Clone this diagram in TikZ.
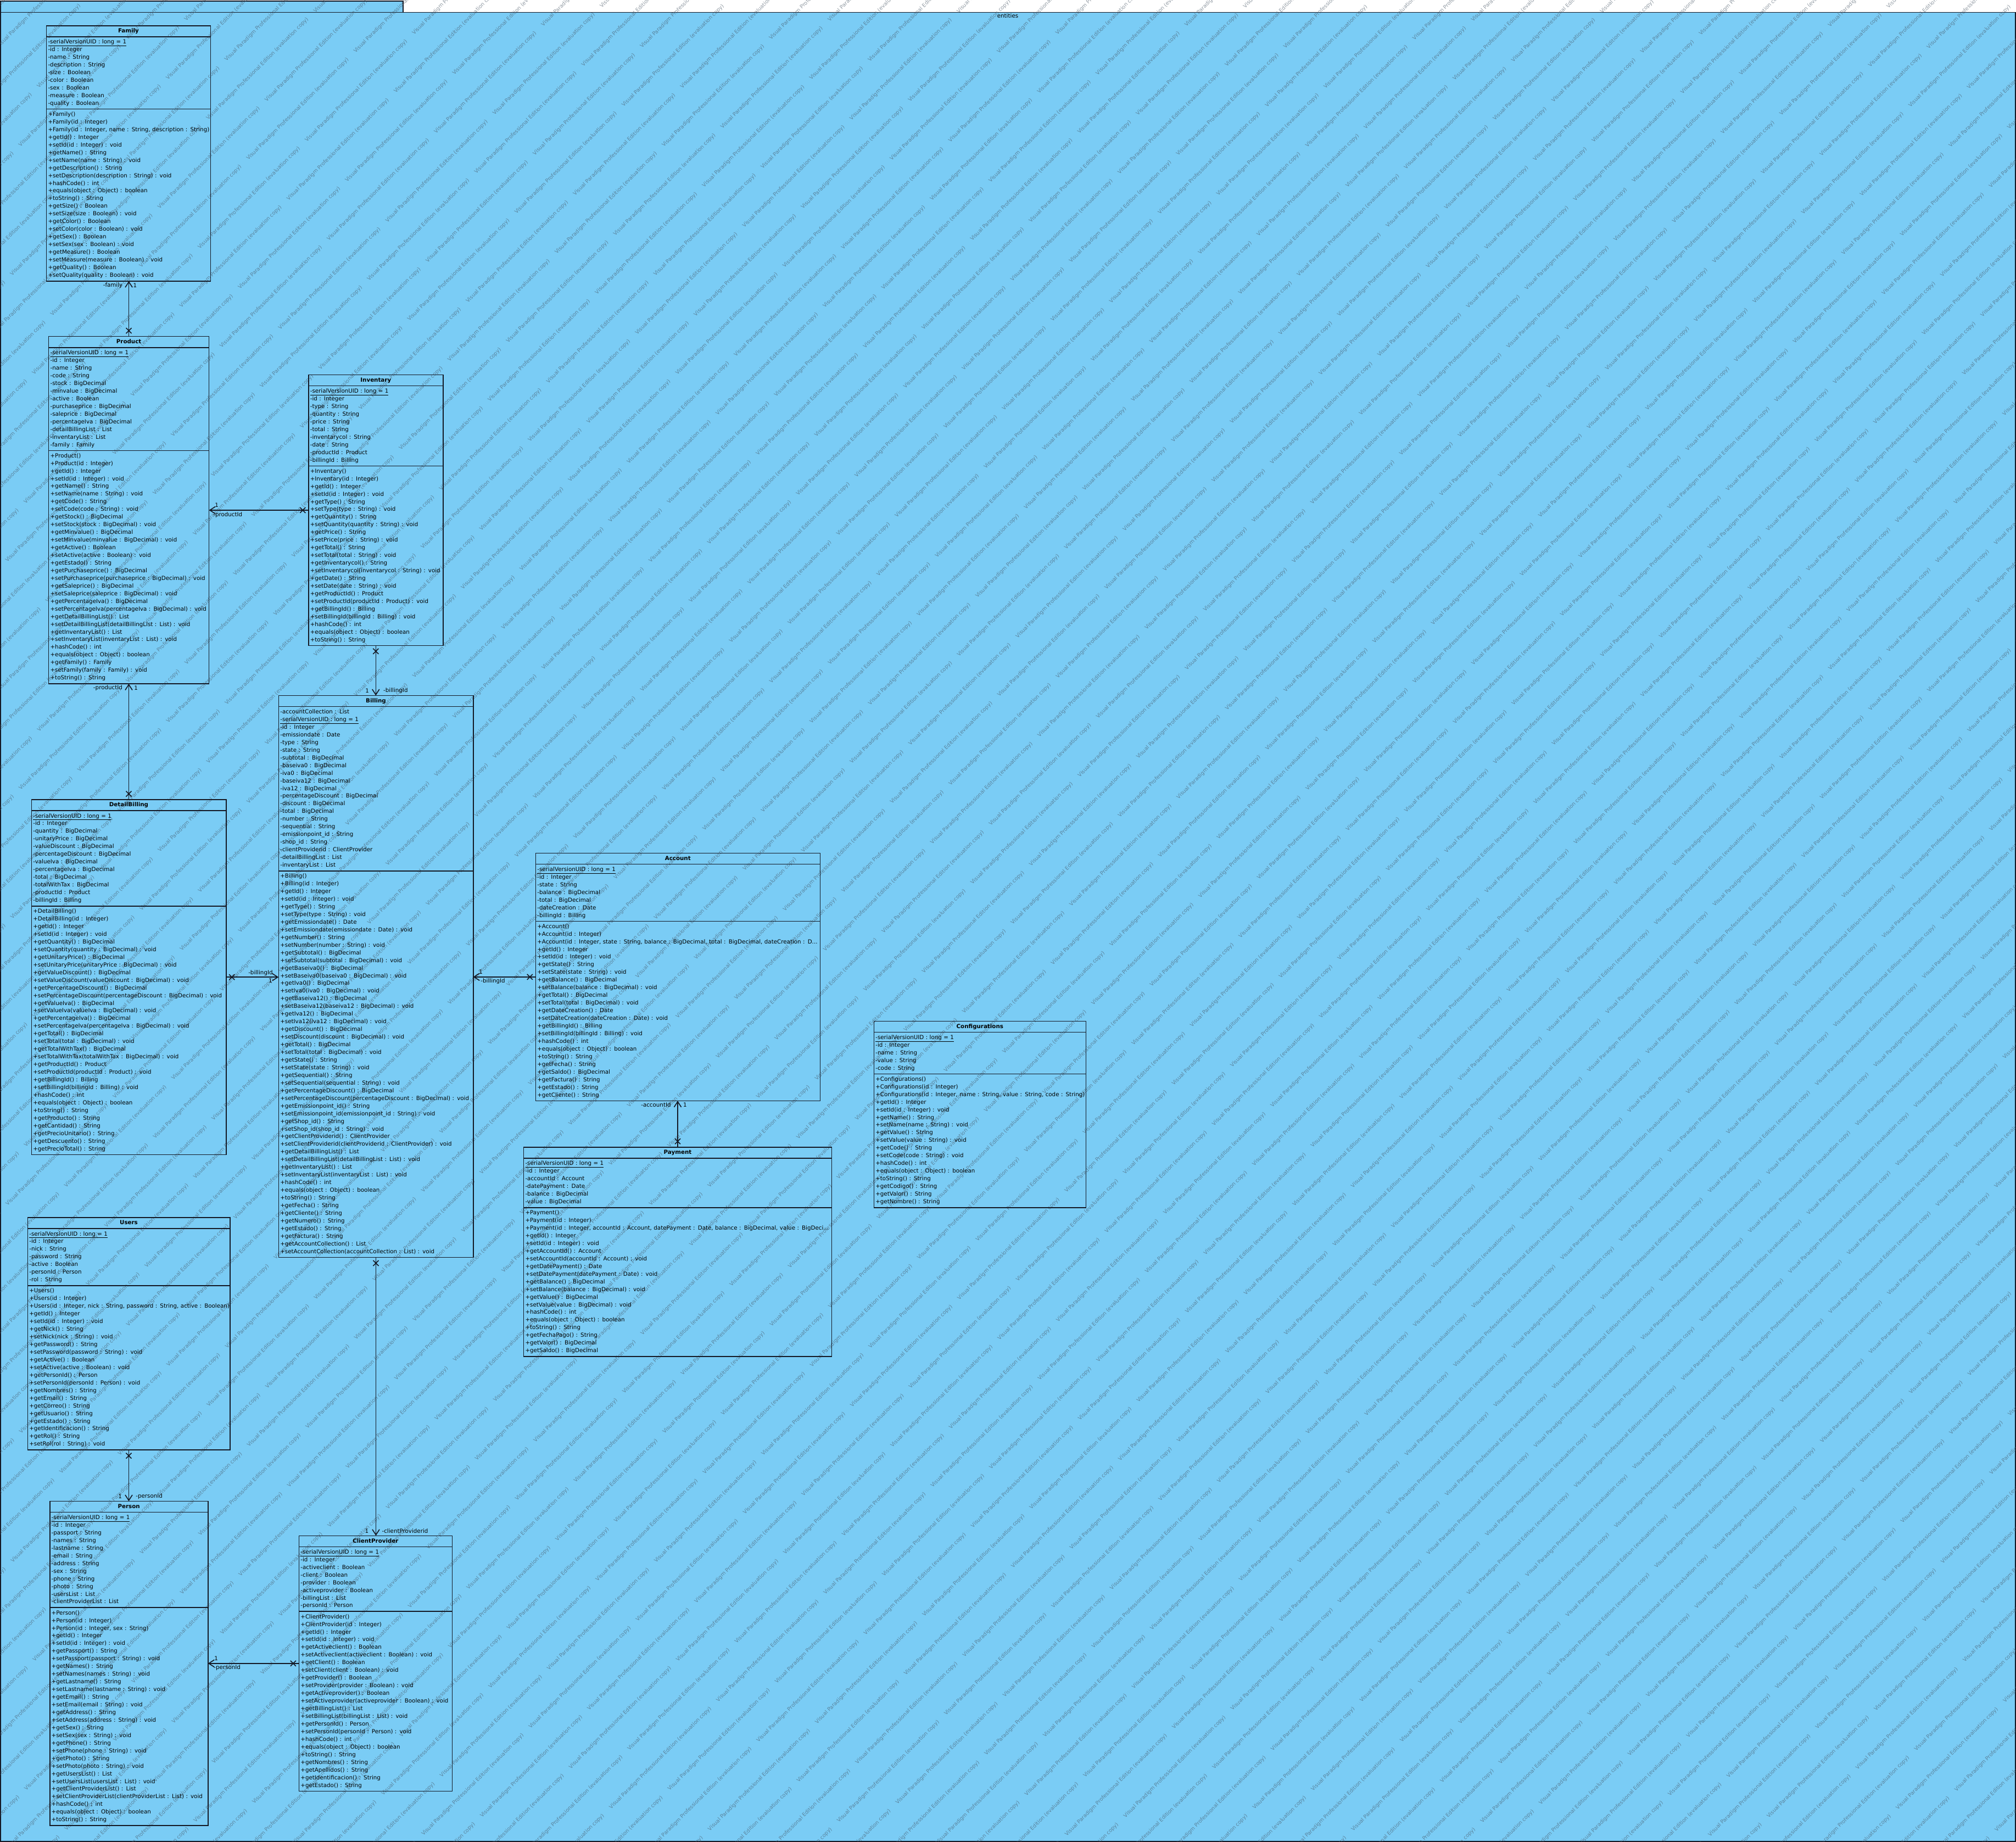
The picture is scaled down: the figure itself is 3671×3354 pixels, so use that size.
\documentclass[tikz,border=0pt]{standalone}
\usepackage{fontspec}
\setmainfont{DejaVu Sans}
\usetikzlibrary{shapes.multipart}
\usetikzlibrary{arrows.meta}
\usetikzlibrary{calc, decorations.markings}
\definecolor{paket}{RGB}{122,204,245}
\definecolor{rand}{RGB}{20,24,36}
\definecolor{wzfarbe}{RGB}{70,85,100}
\newcommand{\titel}[1]{\strut\hspace*{\fill}\textbf{#1}\hspace*{\fill}\strut}

\tikzset{
	klasse/.style={rectangle split, rectangle split parts=3, draw=rand, line width=1.6pt,
		anchor=north west, outer sep=0pt, inner xsep=3pt, inner ysep=2.3pt,
		align=left, font=\fontsize{10.3}{13.95}\selectfont},
	rolle/.style={inner sep=0.5pt, font=\fontsize{10.3}{13.95}\selectfont},
	assoz/.style={draw=rand, line width=1.6pt, -{Straight Barb[length=10pt,width=13pt]},
		postaction={decorate, decoration={markings, mark=at position 10.5pt with
				{\draw[-] (-5pt,-5pt) -- (5pt,5pt) (-5pt,5pt) -- (5pt,-5pt);}}}},
	wasserzeichen/.style={inner sep=0pt, rotate=45, text=wzfarbe, text opacity=0.6,
		font=\fontsize{9.5}{11}\selectfont}
}

\begin{document}
\begin{tikzpicture}[x=1pt, y=-1pt]
	\useasboundingbox (0,0) rectangle (3671,3354);

	% Rahmen
	\fill[white] (0,0) rectangle (3671,3354);
	\draw[draw=rand, fill=paket, line width=1.6pt] (0.8,2) rectangle (734,22.5);
	\draw[draw=rand, fill=paket, line width=1.6pt] (0.8,22.5) rectangle (3670,3353);

	% Wasserzeichen
	\begin{scope}
		\clip (0,0) rectangle (3671,3354);
		\foreach \k in {-67,...,30} {
			\pgfmathsetmacro{\wt}{3424.6+\k*51.8}
			\pgfmathsetmacro{\wsh}{-33.2+mod(\k+100,2)*99}
			\pgfmathsetmacro{\wmin}{max(-\wt,\wt-4743.3)-140}
			\pgfmathsetmacro{\wmax}{min(5191.6-\wt,\wt)+140}
			\pgfmathtruncatemacro{\jmin}{ceil((\wmin-\wsh)/276)}
			\pgfmathtruncatemacro{\jmax}{floor((\wmax-\wsh)/276)}
			\ifnum\jmin>\jmax\else
			\foreach \j in {\jmin,...,\jmax} {
				\pgfmathsetmacro{\wa}{\wsh+\j*276}
				\node[wasserzeichen] (wz\k-\j) at ({(\wt+\wa)*0.70711},{(\wt-\wa)*0.70711})
					{Visual Paradigm Professional Edition (evaluation copy)};
			}
			\fi
		}
	\end{scope}

	\node[rolle, anchor=north] (paketname) at (1835,23.5) {entities};

	% Klassen
	\node[klasse, text width=293pt] (Family) at (84.5,46.7) {\titel{Family}
		\nodepart{two}\strut\underline{-serialVersionUID : long = 1}\\
		-id : Integer\\
		-name : String\\
		-description : String\\
		-size : Boolean\\
		-color : Boolean\\
		-sex : Boolean\\
		-measure : Boolean\\
		-quality : Boolean\strut
		\nodepart{three}\strut+Family()\\
		+Family(id : Integer)\\
		\mbox{+Family(id : Integer, name : String, description : String)}\\
		+getId() : Integer\\
		+setId(id : Integer) : void\\
		+getName() : String\\
		+setName(name : String) : void\\
		+getDescription() : String\\
		+setDescription(description : String) : void\\
		+hashCode() : int\\
		+equals(object : Object) : boolean\\
		+toString() : String\\
		+getSize() : Boolean\\
		+setSize(size : Boolean) : void\\
		+getColor() : Boolean\\
		+setColor(color : Boolean) : void\\
		+getSex() : Boolean\\
		+setSex(sex : Boolean) : void\\
		+getMeasure() : Boolean\\
		+setMeasure(measure : Boolean) : void\\
		+getQuality() : Boolean\\
		+setQuality(quality : Boolean) : void\strut};

	\node[klasse, text width=286pt] (Product) at (88.6,612.6) {\titel{Product}
		\nodepart{two}\strut\underline{-serialVersionUID : long = 1}\\
		-id : Integer\\
		-name : String\\
		-code : String\\
		-stock : BigDecimal\\
		-minvalue : BigDecimal\\
		-active : Boolean\\
		-purchaseprice : BigDecimal\\
		-saleprice : BigDecimal\\
		-percentageIva : BigDecimal\\
		-detailBillingList : List\\
		-inventaryList : List\\
		-family : Family\strut
		\nodepart{three}\strut+Product()\\
		+Product(id : Integer)\\
		+getId() : Integer\\
		+setId(id : Integer) : void\\
		+getName() : String\\
		+setName(name : String) : void\\
		+getCode() : String\\
		+setCode(code : String) : void\\
		+getStock() : BigDecimal\\
		+setStock(stock : BigDecimal) : void\\
		+getMinvalue() : BigDecimal\\
		+setMinvalue(minvalue : BigDecimal) : void\\
		+getActive() : Boolean\\
		+setActive(active : Boolean) : void\\
		+getEstado() : String\\
		+getPurchaseprice() : BigDecimal\\
		\mbox{+setPurchaseprice(purchaseprice : BigDecimal) : void}\\
		+getSaleprice() : BigDecimal\\
		+setSaleprice(saleprice : BigDecimal) : void\\
		+getPercentageIva() : BigDecimal\\
		\mbox{+setPercentageIva(percentageIva : BigDecimal) : void}\\
		+getDetailBillingList() : List\\
		\mbox{+setDetailBillingList(detailBillingList : List) : void}\\
		+getInventaryList() : List\\
		\mbox{+setInventaryList(inventaryList : List) : void}\\
		+hashCode() : int\\
		+equals(object : Object) : boolean\\
		+getFamily() : Family\\
		+setFamily(family : Family) : void\\
		+toString() : String\strut};

	\node[klasse, text width=239pt] (Inventary) at (561.8,682.5) {\titel{Inventary}
		\nodepart{two}\strut\underline{-serialVersionUID : long = 1}\\
		-id : Integer\\
		-type : String\\
		-quantity : String\\
		-price : String\\
		-total : String\\
		-inventarycol : String\\
		-date : String\\
		-productId : Product\\
		-billingId : Billing\strut
		\nodepart{three}\strut+Inventary()\\
		+Inventary(id : Integer)\\
		+getId() : Integer\\
		+setId(id : Integer) : void\\
		+getType() : String\\
		+setType(type : String) : void\\
		+getQuantity() : String\\
		\mbox{+setQuantity(quantity : String) : void}\\
		+getPrice() : String\\
		+setPrice(price : String) : void\\
		+getTotal() : String\\
		+setTotal(total : String) : void\\
		+getInventarycol() : String\\
		\mbox{+setInventarycol(inventarycol : String) : void}\\
		+getDate() : String\\
		+setDate(date : String) : void\\
		+getProductId() : Product\\
		\mbox{+setProductId(productId : Product) : void}\\
		+getBillingId() : Billing\\
		\mbox{+setBillingId(billingId : Billing) : void}\\
		+hashCode() : int\\
		+equals(object : Object) : boolean\\
		+toString() : String\strut};

	\node[klasse, text width=348.4pt] (Billing) at (507.3,1266.5) {\titel{Billing}
		\nodepart{two}\strut-accountCollection : List\\
		\underline{-serialVersionUID : long = 1}\\
		-id : Integer\\
		-emissiondate : Date\\
		-type : String\\
		-state : String\\
		-subtotal : BigDecimal\\
		-baseiva0 : BigDecimal\\
		-iva0 : BigDecimal\\
		-baseiva12 : BigDecimal\\
		-iva12 : BigDecimal\\
		-percentageDiscount : BigDecimal\\
		-discount : BigDecimal\\
		-total : BigDecimal\\
		-number : String\\
		-sequential : String\\
		-emissionpoint\_id : String\\
		-shop\_id : String\\
		-clientProviderid : ClientProvider\\
		-detailBillingList : List\\
		-inventaryList : List\strut
		\nodepart{three}\strut+Billing()\\
		+Billing(id : Integer)\\
		+getId() : Integer\\
		+setId(id : Integer) : void\\
		+getType() : String\\
		+setType(type : String) : void\\
		+getEmissiondate() : Date\\
		+setEmissiondate(emissiondate : Date) : void\\
		+getNumber() : String\\
		+setNumber(number : String) : void\\
		+getSubtotal() : BigDecimal\\
		+setSubtotal(subtotal : BigDecimal) : void\\
		+getBaseiva0() : BigDecimal\\
		+setBaseiva0(baseiva0 : BigDecimal) : void\\
		+getIva0() : BigDecimal\\
		+setIva0(iva0 : BigDecimal) : void\\
		+getBaseiva12() : BigDecimal\\
		+setBaseiva12(baseiva12 : BigDecimal) : void\\
		+getIva12() : BigDecimal\\
		+setIva12(iva12 : BigDecimal) : void\\
		+getDiscount() : BigDecimal\\
		+setDiscount(discount : BigDecimal) : void\\
		+getTotal() : BigDecimal\\
		+setTotal(total : BigDecimal) : void\\
		+getState() : String\\
		+setState(state : String) : void\\
		+getSequential() : String\\
		+setSequential(sequential : String) : void\\
		+getPercentageDiscount() : BigDecimal\\
		\mbox{+setPercentageDiscount(percentageDiscount : BigDecimal) : void}\\
		+getEmissionpoint\_id() : String\\
		\mbox{+setEmissionpoint\_id(emissionpoint\_id : String) : void}\\
		+getShop\_id() : String\\
		+setShop\_id(shop\_id : String) : void\\
		+getClientProviderid() : ClientProvider\\
		\mbox{+setClientProviderid(clientProviderid : ClientProvider) : void}\\
		+getDetailBillingList() : List\\
		\mbox{+setDetailBillingList(detailBillingList : List) : void}\\
		+getInventaryList() : List\\
		+setInventaryList(inventaryList : List) : void\\
		+hashCode() : int\\
		+equals(object : Object) : boolean\\
		+toString() : String\\
		+getFecha() : String\\
		+getCliente() : String\\
		+getNumero() : String\\
		+getEstado() : String\\
		+getFactura() : String\\
		+getAccountCollection() : List\\
		\mbox{+setAccountCollection(accountCollection : List) : void}\strut};

	\node[klasse, text width=348.4pt] (DetailBilling) at (57.3,1456) {\titel{DetailBilling}
		\nodepart{two}\strut\underline{-serialVersionUID : long = 1}\\
		-id : Integer\\
		-quantity : BigDecimal\\
		-unitaryPrice : BigDecimal\\
		-valueDiscount : BigDecimal\\
		-percentageDiscount : BigDecimal\\
		-valueIva : BigDecimal\\
		-percentageIva : BigDecimal\\
		-total : BigDecimal\\
		-totalWithTax : BigDecimal\\
		-productId : Product\\
		-billingId : Billing\strut
		\nodepart{three}\strut+DetailBilling()\\
		+DetailBilling(id : Integer)\\
		+getId() : Integer\\
		+setId(id : Integer) : void\\
		+getQuantity() : BigDecimal\\
		+setQuantity(quantity : BigDecimal) : void\\
		+getUnitaryPrice() : BigDecimal\\
		+setUnitaryPrice(unitaryPrice : BigDecimal) : void\\
		+getValueDiscount() : BigDecimal\\
		\mbox{+setValueDiscount(valueDiscount : BigDecimal) : void}\\
		+getPercentageDiscount() : BigDecimal\\
		\mbox{+setPercentageDiscount(percentageDiscount : BigDecimal) : void}\\
		+getValueIva() : BigDecimal\\
		+setValueIva(valueIva : BigDecimal) : void\\
		+getPercentageIva() : BigDecimal\\
		\mbox{+setPercentageIva(percentageIva : BigDecimal) : void}\\
		+getTotal() : BigDecimal\\
		+setTotal(total : BigDecimal) : void\\
		+getTotalWithTax() : BigDecimal\\
		\mbox{+setTotalWithTax(totalWithTax : BigDecimal) : void}\\
		+getProductId() : Product\\
		+setProductId(productId : Product) : void\\
		+getBillingId() : Billing\\
		+setBillingId(billingId : Billing) : void\\
		+hashCode() : int\\
		+equals(object : Object) : boolean\\
		+toString() : String\\
		+getProducto() : String\\
		+getCantidad() : String\\
		+getPrecioUnitario() : String\\
		+getDescuento() : String\\
		+getPrecioTotal() : String\strut};

	\node[klasse, text width=512pt] (Account) at (975.3,1553.3) {\titel{Account}
		\nodepart{two}\strut\underline{-serialVersionUID : long = 1}\\
		-id : Integer\\
		-state : String\\
		-balance : BigDecimal\\
		-total : BigDecimal\\
		-dateCreation : Date\\
		-billingId : Billing\strut
		\nodepart{three}\strut+Account()\\
		+Account(id : Integer)\\
		\mbox{+Account(id : Integer, state : String, balance : BigDecimal, total : BigDecimal, dateCreation : D...}\\
		+getId() : Integer\\
		+setId(id : Integer) : void\\
		+getState() : String\\
		+setState(state : String) : void\\
		+getBalance() : BigDecimal\\
		+setBalance(balance : BigDecimal) : void\\
		+getTotal() : BigDecimal\\
		+setTotal(total : BigDecimal) : void\\
		+getDateCreation() : Date\\
		+setDateCreation(dateCreation : Date) : void\\
		+getBillingId() : Billing\\
		+setBillingId(billingId : Billing) : void\\
		+hashCode() : int\\
		+equals(object : Object) : boolean\\
		+toString() : String\\
		+getFecha() : String\\
		+getSaldo() : BigDecimal\\
		+getFactura() : String\\
		+getEstado() : String\\
		+getCliente() : String\strut};

	\node[klasse, text width=380pt] (Configurations) at (1591.3,1859.3) {\titel{Configurations}
		\nodepart{two}\strut\underline{-serialVersionUID : long = 1}\\
		-id : Integer\\
		-name : String\\
		-value : String\\
		-code : String\strut
		\nodepart{three}\strut+Configurations()\\
		+Configurations(id : Integer)\\
		\mbox{+Configurations(id : Integer, name : String, value : String, code : String)}\\
		+getId() : Integer\\
		+setId(id : Integer) : void\\
		+getName() : String\\
		+setName(name : String) : void\\
		+getValue() : String\\
		+setValue(value : String) : void\\
		+getCode() : String\\
		+setCode(code : String) : void\\
		+hashCode() : int\\
		+equals(object : Object) : boolean\\
		+toString() : String\\
		+getCodigo() : String\\
		+getValor() : String\\
		+getNombre() : String\strut};

	\node[klasse, text width=555pt] (Payment) at (953.5,2088.7) {\titel{Payment}
		\nodepart{two}\strut\underline{-serialVersionUID : long = 1}\\
		-id : Integer\\
		-accountId : Account\\
		-datePayment : Date\\
		-balance : BigDecimal\\
		-value : BigDecimal\strut
		\nodepart{three}\strut+Payment()\\
		+Payment(id : Integer)\\
		\mbox{+Payment(id : Integer, accountId : Account, datePayment : Date, balance : BigDecimal, value : BigDeci...}\\
		+getId() : Integer\\
		+setId(id : Integer) : void\\
		+getAccountId() : Account\\
		+setAccountId(accountId : Account) : void\\
		+getDatePayment() : Date\\
		+setDatePayment(datePayment : Date) : void\\
		+getBalance() : BigDecimal\\
		+setBalance(balance : BigDecimal) : void\\
		+getValue() : BigDecimal\\
		+setValue(value : BigDecimal) : void\\
		+hashCode() : int\\
		+equals(object : Object) : boolean\\
		+toString() : String\\
		+getFechaPago() : String\\
		+getValor() : BigDecimal\\
		+getSaldo() : BigDecimal\strut};

	\node[klasse, text width=362.4pt] (Users) at (50.3,2217) {\titel{Users}
		\nodepart{two}\strut\underline{-serialVersionUID : long = 1}\\
		-id : Integer\\
		-nick : String\\
		-password : String\\
		-active : Boolean\\
		-personId : Person\\
		-rol : String\strut
		\nodepart{three}\strut+Users()\\
		+Users(id : Integer)\\
		\mbox{+Users(id : Integer, nick : String, password : String, active : Boolean)}\\
		+getId() : Integer\\
		+setId(id : Integer) : void\\
		+getNick() : String\\
		+setNick(nick : String) : void\\
		+getPassword() : String\\
		+setPassword(password : String) : void\\
		+getActive() : Boolean\\
		+setActive(active : Boolean) : void\\
		+getPersonId() : Person\\
		+setPersonId(personId : Person) : void\\
		+getNombres() : String\\
		+getEmail() : String\\
		+getCorreo() : String\\
		+getUsuario() : String\\
		+getEstado() : String\\
		+getIdentificacion() : String\\
		+getRol() : String\\
		+setRol(rol : String) : void\strut};

	\node[klasse, text width=282pt] (Person) at (90.7,2733.5) {\titel{Person}
		\nodepart{two}\strut\underline{-serialVersionUID : long = 1}\\
		-id : Integer\\
		-passport : String\\
		-names : String\\
		-lastname : String\\
		-email : String\\
		-address : String\\
		-sex : String\\
		-phone : String\\
		-photo : String\\
		-usersList : List\\
		-clientProviderList : List\strut
		\nodepart{three}\strut+Person()\\
		+Person(id : Integer)\\
		+Person(id : Integer, sex : String)\\
		+getId() : Integer\\
		+setId(id : Integer) : void\\
		+getPassport() : String\\
		+setPassport(passport : String) : void\\
		+getNames() : String\\
		+setNames(names : String) : void\\
		+getLastname() : String\\
		+setLastname(lastname : String) : void\\
		+getEmail() : String\\
		+setEmail(email : String) : void\\
		+getAddress() : String\\
		+setAddress(address : String) : void\\
		+getSex() : String\\
		+setSex(sex : String) : void\\
		+getPhone() : String\\
		+setPhone(phone : String) : void\\
		+getPhoto() : String\\
		+setPhoto(photo : String) : void\\
		+getUsersList() : List\\
		+setUsersList(usersList : List) : void\\
		+getClientProviderList() : List\\
		\mbox{+setClientProviderList(clientProviderList : List) : void}\\
		+hashCode() : int\\
		+equals(object : Object) : boolean\\
		+toString() : String\strut};

	\node[klasse, text width=273pt] (ClientProvider) at (544.4,2796.3) {\titel{ClientProvider}
		\nodepart{two}\strut\underline{-serialVersionUID : long = 1}\\
		-id : Integer\\
		-activeclient : Boolean\\
		-client : Boolean\\
		-provider : Boolean\\
		-activeprovider : Boolean\\
		-billingList : List\\
		-personId : Person\strut
		\nodepart{three}\strut+ClientProvider()\\
		+ClientProvider(id : Integer)\\
		+getId() : Integer\\
		+setId(id : Integer) : void\\
		+getActiveclient() : Boolean\\
		\mbox{+setActiveclient(activeclient : Boolean) : void}\\
		+getClient() : Boolean\\
		+setClient(client : Boolean) : void\\
		+getProvider() : Boolean\\
		+setProvider(provider : Boolean) : void\\
		+getActiveprovider() : Boolean\\
		\mbox{+setActiveprovider(activeprovider : Boolean) : void}\\
		+getBillingList() : List\\
		+setBillingList(billingList : List) : void\\
		+getPersonId() : Person\\
		+setPersonId(personId : Person) : void\\
		+hashCode() : int\\
		+equals(object : Object) : boolean\\
		+toString() : String\\
		+getNombres() : String\\
		+getApellidos() : String\\
		+getIdentificacion() : String\\
		+getEstado() : String\strut};

	% Verbindungen
	\draw[assoz] (Product.north) -- (Product.north |- Family.south);
	\node[rolle, anchor=east] (rFamily) at ($(Family.south)+(-10,8)$) {-family};
	\node[rolle, anchor=west] (mFamily) at ($(Family.south)+(8,8)$) {1};

	\coordinate (pInv) at (Inventary.west -| Product.east);
	\draw[assoz] (Inventary.west) -- (pInv);
	\node[rolle, anchor=west] (mProdInv) at ($(pInv)+(10,-9.5)$) {1};
	\node[rolle, anchor=west] (rProdInv) at ($(pInv)+(7,8.5)$) {-productId};

	\draw[assoz] (DetailBilling.north) -- (DetailBilling.north |- Product.south);
	\node[rolle, anchor=east] (rProdDet) at ($(Product.south)+(-11,8)$) {-productId};
	\node[rolle, anchor=west] (mProdDet) at ($(Product.south)+(9,8)$) {1};

	\draw[assoz] (Inventary.south) -- (Inventary.south |- Billing.north);
	\node[rolle, anchor=east] (mBillInv) at ($(Billing.north)+(-12,-8.5)$) {1};
	\node[rolle, anchor=west] (rBillInv) at ($(Billing.north)+(13,-8.5)$) {-billingId};

	\coordinate (pBillDet) at (DetailBilling.east -| Billing.west);
	\draw[assoz] (DetailBilling.east) -- (pBillDet);
	\node[rolle, anchor=east] (rBillDet) at ($(pBillDet)+(-10,-8)$) {-billingId};
	\node[rolle, anchor=east] (mBillDet) at ($(pBillDet)+(-11,7)$) {1};

	\coordinate (pBillAcc) at (Account.west -| Billing.east);
	\draw[assoz] (Account.west) -- (pBillAcc);
	\node[rolle, anchor=west] (mBillAcc) at ($(pBillAcc)+(10,-9)$) {1};
	\node[rolle, anchor=west] (rBillAcc) at ($(pBillAcc)+(13,8)$) {-billingId};

	\draw[assoz] (Payment.north) -- (Payment.north |- Account.south);
	\node[rolle, anchor=east] (rAccPay) at ($(Account.south)+(-12,7.5)$) {-accountId};
	\node[rolle, anchor=west] (mAccPay) at ($(Account.south)+(9,7.5)$) {1};

	\draw[assoz] (Billing.south) -- (Billing.south |- ClientProvider.north);
	\node[rolle, anchor=east] (mCliBill) at ($(ClientProvider.north)+(-12,-8.5)$) {1};
	\node[rolle, anchor=west] (rCliBill) at ($(ClientProvider.north)+(11,-8.5)$) {-clientProviderid};

	\draw[assoz] (Users.south) -- (Users.south |- Person.north);
	\node[rolle, anchor=east] (mPersUsr) at ($(Person.north)+(-12,-8.5)$) {1};
	\node[rolle, anchor=west] (rPersUsr) at ($(Person.north)+(12,-8.5)$) {-personId};

	\coordinate (pPersCli) at (ClientProvider.west -| Person.east);
	\draw[assoz] (ClientProvider.west) -- (pPersCli);
	\node[rolle, anchor=west] (mPersCli) at ($(pPersCli)+(11,-9)$) {1};
	\node[rolle, anchor=west] (rPersCli) at ($(pPersCli)+(10,8)$) {-personId};
\end{tikzpicture}
\end{document}
